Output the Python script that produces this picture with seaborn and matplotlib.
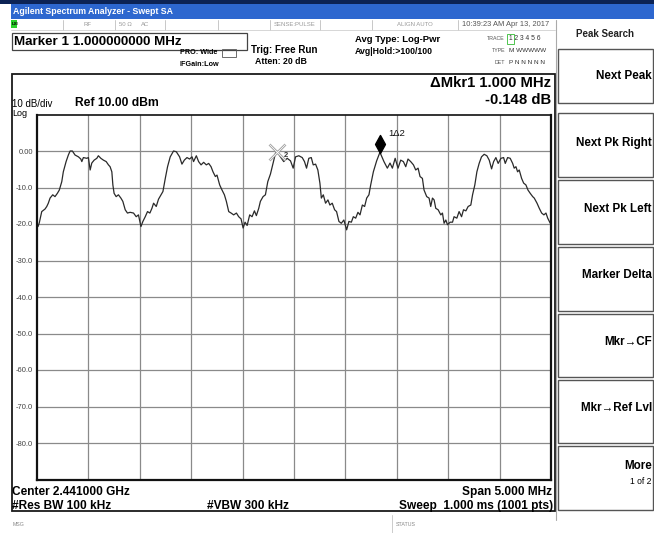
import matplotlib
matplotlib.use("Agg")
import matplotlib.pyplot as plt
from matplotlib.patches import Rectangle
from matplotlib.path import Path
import pandas as pd
import seaborn as sns

# trace: offset from start frequency (MHz) and level (dBm)
offset_mhz = [
    0.010, 0.022, 0.046, 0.078, 0.095, 0.110, 0.127, 0.153, 0.175, 0.198,
    0.217, 0.241, 0.256, 0.283, 0.305, 0.322, 0.344, 0.370, 0.403, 0.426,
    0.436, 0.451, 0.484, 0.500, 0.517, 0.533, 0.556, 0.582, 0.597, 0.621,
    0.646, 0.673, 0.695, 0.711, 0.728, 0.738, 0.750, 0.770, 0.792, 0.816,
    0.835, 0.858, 0.880, 0.906, 0.939, 0.965, 0.987, 1.011, 1.030, 1.053,
    1.075, 1.098, 1.118, 1.134, 1.160, 1.182, 1.225, 1.248, 1.270, 1.296,
    1.328, 1.355, 1.387, 1.410, 1.433, 1.459, 1.484, 1.508, 1.523, 1.550,
    1.572, 1.596, 1.621, 1.647, 1.670, 1.693, 1.712, 1.735, 1.751, 1.777,
    1.800, 1.823, 1.842, 1.865, 1.888, 1.913, 1.940, 1.962, 1.985, 2.005,
    2.024, 2.044, 2.069, 2.092, 2.115, 2.134, 2.157, 2.173, 2.199, 2.222,
    2.245, 2.271, 2.300, 2.320, 2.336, 2.368, 2.400, 2.434, 2.466, 2.492,
    2.515, 2.547, 2.580, 2.602, 2.622, 2.644, 2.668, 2.687, 2.710, 2.732,
    2.752, 2.766, 2.785, 2.807, 2.830, 2.849, 2.872, 2.895, 2.914, 2.937,
    2.960, 2.985, 3.012, 3.034, 3.058, 3.077, 3.100, 3.122, 3.142, 3.165,
    3.187, 3.207, 3.229, 3.246, 3.272, 3.304, 3.336, 3.375, 3.408, 3.434,
    3.457, 3.484, 3.512, 3.538, 3.564, 3.587, 3.609, 3.635, 3.662, 3.684,
    3.707, 3.726, 3.749, 3.765, 3.791, 3.814, 3.830, 3.847, 3.863, 3.879,
    3.902, 3.928, 3.944, 3.960, 3.977, 3.993, 4.019, 4.042, 4.057, 4.084,
    4.106, 4.130, 4.149, 4.172, 4.194, 4.220, 4.237, 4.259, 4.279, 4.301,
    4.324, 4.350, 4.376, 4.399, 4.422, 4.442, 4.464, 4.486, 4.513, 4.539,
    4.555, 4.578, 4.603, 4.627, 4.642, 4.659, 4.675, 4.691, 4.714, 4.734,
    4.756, 4.776, 4.798, 4.822, 4.837, 4.864, 4.886, 4.909, 4.931, 4.951,
    4.968, 4.993,
]
level_dbm = [
    -20.7, -19.7, -16.6, -15.9, -15.2, -14.3, -12.9, -12.0, -12.5, -11.6,
    -10.7, -8.4, -5.7, -2.9, -1.1, 0.0, 0.0, -1.1, -1.6, -2.2,
    -2.9, -1.8, -2.0, -1.8, -5.2, -3.3, -2.5, -2.0, -1.3, -2.0,
    -2.5, -2.9, -3.8, -4.3, -5.7, -9.3, -11.6, -12.5, -12.0, -12.9,
    -13.8, -16.1, -17.0, -16.8, -17.0, -18.0, -17.5, -20.7, -19.3, -18.0,
    -16.6, -17.0, -15.7, -14.3, -15.2, -13.2, -11.1, -7.5, -4.3, -1.6,
    0.0, -0.2, -1.6, -3.6, -2.5, -1.8, -2.2, -1.6, -2.9, -1.3,
    -2.9, -3.8, -3.1, -3.8, -3.4, -4.3, -5.7, -7.0, -6.6, -9.3,
    -10.7, -12.0, -13.8, -16.6, -17.0, -17.5, -17.0, -18.0, -18.6, -21.1,
    -19.5, -20.4, -17.5, -18.0, -16.4, -17.7, -15.7, -13.8, -12.5, -12.0,
    -8.4, -6.3, -3.0, -0.6, -0.2, -1.6, -2.9, -2.0, -2.7, -4.7,
    -1.6, -1.3, -1.8, -2.9, -4.7, -2.0, -1.8, -3.8, -3.6, -5.2,
    -8.8, -12.9, -12.0, -14.3, -13.4, -14.8, -14.3, -16.1, -16.6, -19.3,
    -19.8, -18.9, -21.6, -19.3, -19.5, -18.0, -18.4, -16.8, -17.5, -14.8,
    -15.2, -12.9, -12.0, -9.3, -5.7, -2.7, -0.35, -2.9, -4.7, -3.3,
    -4.7, -2.0, -4.7, -2.5, -2.9, -4.3, -2.2, -2.9, -3.8, -5.2,
    -4.7, -7.0, -7.5, -10.7, -12.5, -12.9, -15.2, -12.9, -13.4, -15.7,
    -16.1, -17.5, -17.0, -19.8, -18.9, -20.2, -19.5, -19.5, -18.0, -18.4,
    -16.6, -18.0, -16.1, -16.4, -15.2, -14.8, -12.0, -9.3, -5.7, -3.4,
    -1.6, -0.9, -1.3, -2.5, -4.9, -2.9, -1.8, -3.4, -2.0, -1.8,
    -3.4, -1.8, -2.0, -3.4, -4.7, -4.3, -5.7, -5.2, -7.5, -8.8,
    -9.3, -10.7, -11.6, -12.5, -12.9, -14.3, -15.7, -17.0, -17.5, -17.0,
    -18.4, -19.8,
]

y_ticks = [0, -10, -20, -30, -40, -50, -60, -70, -80]
y_tick_labels = ["0.00", "-10.0", "-20.0", "-30.0", "-40.0", "-50.0", "-60.0", "-70.0", "-80.0"]
x_grid_mhz = [0.5, 1.0, 1.5, 2.0, 2.5, 3.0, 3.5, 4.0, 4.5]

marker_ref = (2.336, -0.2)     # marker 2
marker_delta = (3.336, -0.35)  # marker 1, 1.000 MHz / -0.148 dB away

softkeys = ["Next Peak", "Next Pk Right", "Next Pk Left", "Marker Delta",
            "Mkr\u2192CF", "Mkr\u2192Ref Lvl", "More"]
softkey_y = [76, 143, 209, 275, 342, 408, 466]

sns.set_style("white")
plt.rcParams["font.family"] = ["Liberation Sans", "DejaVu Sans"]

W, H = 654, 533
fig = plt.figure(figsize=(W / 100, H / 100), dpi=100)

# screen furniture drawn in pixel coordinates
bg = fig.add_axes([0, 0, 1, 1])
bg.set_xlim(0, W)
bg.set_ylim(H, 0)
bg.axis("off")


def box(x0, y0, x1, y1, **kw):
    bg.add_patch(Rectangle((x0, y0), x1 - x0, y1 - y0, **kw))


def txt(x, y, s, size=7, bold=False, ha="left", color="black"):
    bg.text(x, y, s, fontsize=size, fontweight="bold" if bold else "normal",
            ha=ha, va="center", color=color)


# title bar
box(0, 0, W, 4, color="#0c2355", lw=0)
box(11, 4, W, 19, color="#2d67cf", lw=0)
txt(13, 12, "Agilent Spectrum Analyzer - Swept SA", 6.3, True, color="white")

# status row
box(11, 20, 17, 28, color="#2bd12b", lw=0)
txt(11.5, 24, "LXI", 3.2, True, color="black")
for x in [63, 115, 165, 218, 270, 320, 372, 458]:
    bg.plot([x, x], [20, 30], color="#c8c8c8", lw=0.7)
bg.plot([11, 555], [30, 30], color="#d0d0d0", lw=0.6)
txt(88, 25, "RF", 4.3, color="#999999", ha="center")
txt(125, 25, "50 \u03a9", 4.3, color="#999999", ha="center")
txt(145, 25, "AC", 4.3, color="#999999", ha="center")
txt(295, 25, "SENSE:PULSE", 4.3, color="#999999", ha="center")
txt(415, 25, "ALIGN AUTO", 4.3, color="#999999", ha="center")
txt(506, 25, "10:39:23 AM Apr 13, 2017", 5.4, color="#555555", ha="center")

# marker readout box
box(12, 33, 247, 50, fill=False, ec="#444444", lw=0.9)
txt(14, 42, "Marker 1 1.000000000 MHz", 9.6, True)
txt(180, 53, "PRO: Wide", 5.2, True)
txt(180, 65, "IFGain:Low", 5.2, True)
box(222, 49, 236, 57, fill=False, ec="#555555", lw=0.6)
txt(251, 50, "Trig: Free Run", 7.0, True)
txt(255, 62, "Atten: 20 dB", 6.3, True)
txt(355, 39, "Avg Type: Log-Pwr", 6.8, True)
txt(355, 51, "Avg|Hold:>100/100", 6.3, True)

# trace table
txt(505, 39, "TRACE", 3.8, color="#555555", ha="right")
txt(505, 51, "TYPE", 3.8, color="#555555", ha="right")
txt(505, 63, "DET", 3.8, color="#555555", ha="right")
box(507, 34, 514, 44, fill=False, ec="#33bb33", lw=0.6)
txt(509, 39, "1 2 3 4 5 6", 4.8, color="#333333")
txt(509, 51, "M WWWWW", 4.6, color="#333333")
txt(509, 63, "P N N N N N", 4.6, color="#333333")

# main display frame
box(12, 74, 555, 511, fill=False, ec="#1a1a1a", lw=1.3)
txt(551, 83, "\u0394Mkr1 1.000 MHz", 10.7, True, ha="right")
txt(551, 100, "-0.148 dB", 10.7, True, ha="right")
txt(12, 104, "10 dB/div", 7.0)
txt(12, 113, "Log", 6.5)
txt(75, 103, "Ref 10.00 dBm", 8.7, True)

# bottom annotations
txt(12, 492, "Center 2.441000 GHz", 8.6, True)
txt(552, 492, "Span 5.000 MHz", 8.6, True, ha="right")
txt(12, 506, "#Res BW 100 kHz", 8.6, True)
txt(207, 506, "#VBW 300 kHz", 8.6, True)
txt(553, 506, "Sweep  1.000 ms (1001 pts)", 8.6, True, ha="right")
bg.plot([392, 392], [515, 533], color="#cccccc", lw=0.7)
txt(13, 525, "MSG", 3.8, color="#888888")
txt(396, 525, "STATUS", 3.8, color="#888888")

# softkey panel
bg.plot([556, 556], [20, 520], color="#aaaaaa", lw=0.8)
txt(605, 34, "Peak Search", 7.0, True, ha="center", color="#222222")
box(558, 49, 653, 103, fill=False, ec="#555555", lw=1.0)
edges = [(113, 177), (180, 244), (247, 311), (314, 377), (380, 443), (446, 510)]
for y0, y1 in edges:
    box(558, y0, 653, y1, fill=False, ec="#555555", lw=1.0)
for name, y in zip(softkeys, softkey_y):
    txt(652, y, name, 8.4, True, ha="right")
txt(651, 482, "1 of 2", 6.2, ha="right")

# trace area
left, right, top, bottom = 37, 551, 114.5, 479.5
ax = fig.add_axes([left / W, 1 - bottom / H, (right - left) / W, (bottom - top) / H])
trace = pd.DataFrame({"offset": offset_mhz, "level": level_dbm})
sns.lineplot(data=trace, x="offset", y="level", ax=ax, color="#2a2a2a",
             linewidth=0.9, estimator=None, sort=False)
ax.set_xlim(0, 5)
ax.set_ylim(-90, 10)
for x in x_grid_mhz:
    ax.axvline(x, color="#8a8a8a", lw=0.9, zorder=0)
for y in y_ticks:
    ax.axhline(y, color="#8a8a8a", lw=0.9, zorder=0)
ax.set_xticks([])
ax.set_yticks(y_ticks)
ax.set_yticklabels(y_tick_labels, fontsize=5.5, color="#444444")
ax.tick_params(axis="y", length=0, pad=3)
ax.set_xlabel("")
ax.set_ylabel("")
for side in ["left", "bottom", "top", "right"]:
    ax.spines[side].set_visible(True)
    ax.spines[side].set_color("#111111")
ax.spines["left"].set_linewidth(1.6)
ax.spines["bottom"].set_linewidth(1.6)
ax.spines["top"].set_linewidth(1.2)
ax.spines["right"].set_linewidth(1.6)

# markers
ax.plot(*marker_ref, marker="x", markersize=11, mew=1.8, color="#9a9a9a", zorder=5)
ax.plot(*marker_ref, marker="x", markersize=11, mew=0.6, color="white", zorder=6)
ax.annotate("2", marker_ref, xytext=(5, -3), textcoords="offset points",
            fontsize=5.5, fontweight="bold", color="#333333", va="center")
diamond = Path([(0, 1), (0.55, 0), (0, -1), (-0.55, 0), (0, 1)],
               [Path.MOVETO, Path.LINETO, Path.LINETO, Path.LINETO, Path.CLOSEPOLY])
ax.plot(marker_delta[0], marker_delta[1] + 2.4, marker=diamond, markersize=13,
        color="black", zorder=6)
ax.annotate("1\u03942", (marker_delta[0], marker_delta[1] + 2.4), xytext=(6, 7),
            textcoords="offset points", fontsize=6.8, color="#111111", va="center")

fig.savefig("out.png", dpi=100)
